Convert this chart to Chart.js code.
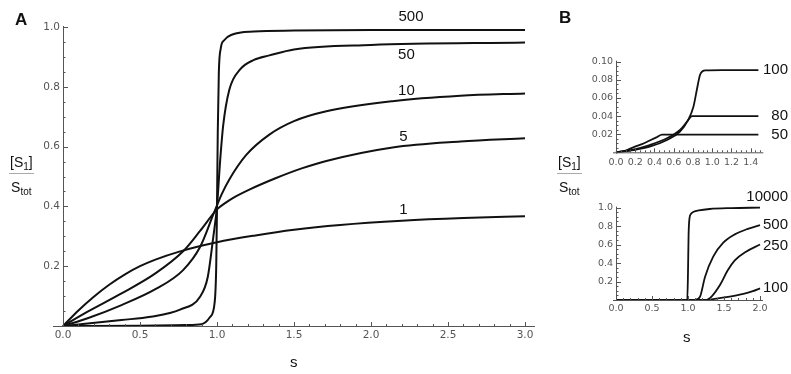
<!DOCTYPE html>
<html>
<head>
<meta charset="utf-8">
<script src="https://cdn.jsdelivr.net/npm/chart.js@4.4.1/dist/chart.umd.min.js"></script>
<style>
body { margin:0; background:#fff; width:791px; height:374px; position:relative; overflow:hidden; font-family:"Liberation Sans", Arial, sans-serif; color:#111; }
canvas { position:absolute; }
.lbl { position:absolute; line-height:1; white-space:nowrap; }
.frac { position:absolute; text-align:center; font-size:14px; line-height:1; }
.frac .num { border-bottom:1px solid #aaa; padding:0 1px 4px 1px; }
.frac .den { padding-top:6px; }
sub { font-size:10px; vertical-align:-3px; line-height:0; }
</style>
</head>
<body>
<canvas id="chartA" width="560" height="374" style="left:0;top:0"></canvas>
<canvas id="chartB1" width="231" height="145" style="left:560px;top:40px"></canvas>
<canvas id="chartB2" width="231" height="150" style="left:560px;top:185px"></canvas>

<div class="lbl" style="left:15px;top:11px;font-weight:bold;font-size:17px">A</div>
<div class="lbl" style="left:559px;top:9px;font-weight:bold;font-size:17px">B</div>
<div class="frac" style="left:9px;top:155px"><div class="num">[S<sub>1</sub>]</div><div class="den">S<sub>tot</sub></div></div>
<div class="frac" style="left:557px;top:155px"><div class="num">[S<sub>1</sub>]</div><div class="den">S<sub>tot</sub></div></div>
<div class="lbl" style="left:290px;top:354px;font-size:15px">s</div>
<div class="lbl" style="left:683px;top:329px;font-size:15px">s</div>

<script>
// ---- panel A : [S1]/Stot against s, one curve per parameter value
const sA_1 = [0, 0.1, 0.2, 0.3, 0.4, 0.5, 0.6, 0.75, 1.0, 1.25, 1.5, 1.8, 2.2, 2.6, 3.0];
const yA_1 = [0, 0.052, 0.098, 0.138, 0.172, 0.2, 0.222, 0.248, 0.28, 0.303, 0.322, 0.338, 0.352, 0.361, 0.367];
const sA_5 = [0, 0.16, 0.38, 0.6, 0.78, 0.89, 1.0, 1.05, 1.1, 1.21, 1.38, 1.55, 1.71, 2.14, 2.58, 3.0];
const yA_5 = [0, 0.048, 0.109, 0.176, 0.25, 0.318, 0.39, 0.41, 0.427, 0.456, 0.494, 0.527, 0.552, 0.597, 0.617, 0.628];
const sA_10 = [0, 0.16, 0.38, 0.6, 0.78, 0.89, 0.98, 1.03, 1.08, 1.19, 1.34, 1.5, 1.71, 2.14, 2.58, 3.0];
const yA_10 = [0, 0.026, 0.07, 0.123, 0.187, 0.264, 0.378, 0.44, 0.49, 0.572, 0.64, 0.685, 0.718, 0.752, 0.77, 0.778];
const sA_50 = [0, 0.16, 0.38, 0.57, 0.76, 0.89, 0.94, 0.976, 1.0, 1.02, 1.04, 1.08, 1.15, 1.24, 1.34, 1.5, 2.0, 3.0];
const yA_50 = [0, 0.008, 0.02, 0.031, 0.055, 0.098, 0.164, 0.298, 0.4, 0.55, 0.67, 0.79, 0.858, 0.89, 0.905, 0.925, 0.94, 0.948];
const sA_500 = [0, 0.5, 0.8, 0.9, 0.955, 0.985, 0.995, 1.0, 1.005, 1.012, 1.025, 1.045, 1.1, 1.24, 1.5, 2.0, 3.0];
const yA_500 = [0, 0.001, 0.003, 0.006, 0.03, 0.08, 0.2, 0.4, 0.65, 0.85, 0.93, 0.955, 0.975, 0.985, 0.988, 0.99, 0.99];

const curveLabelsA = ['500', '50', '10', '5', '1'];
const curveLabelSA = [2.26, 2.23, 2.23, 2.21, 2.21];
const curveLabelYA = [1.033, 0.907, 0.787, 0.633, 0.387];
const xTicksA = [0, 0.5, 1.0, 1.5, 2.0, 2.5, 3.0];
const yTicksA = [0.2, 0.4, 0.6, 0.8, 1.0];

// ---- panel B, top
const sB1_50 = [0, 0.1, 0.18, 0.27, 0.35, 0.42, 0.48, 1.48];
const yB1_50 = [0, 0.002, 0.0055, 0.009, 0.013, 0.0165, 0.0195, 0.0195];
const sB1_80 = [0, 0.18, 0.35, 0.53, 0.665, 0.74, 0.79, 1.48];
const yB1_80 = [0, 0.003, 0.008, 0.0155, 0.0246, 0.034, 0.04, 0.04];
const sB1_100 = [0, 0.18, 0.35, 0.53, 0.665, 0.75, 0.805, 0.84, 0.873, 0.9, 0.93, 1.1, 1.48];
const yB1_100 = [0, 0.0025, 0.0062, 0.0136, 0.0227, 0.0357, 0.0503, 0.0688, 0.0853, 0.0895, 0.0905, 0.0908, 0.0908];

const curveLabelsB1 = ['100', '80', '50'];
const curveLabelSB1 = [1.788, 1.788, 1.788];
const curveLabelYB1 = [0.0908, 0.040, 0.019];
const xTicksB1 = [0, 0.2, 0.4, 0.6, 0.8, 1.0, 1.2, 1.4];
const yTicksB1 = [0.02, 0.04, 0.06, 0.08, 0.10];

// ---- panel B, bottom
const sB2_100 = [0, 1.2, 1.35, 1.58, 1.77, 1.9, 2.0];
const yB2_100 = [0, 0, 0.01, 0.036, 0.065, 0.095, 0.126];
const sB2_250 = [0, 1.25, 1.33, 1.45, 1.55, 1.65, 1.8, 2.0];
const yB2_250 = [0, 0, 0.04, 0.17, 0.32, 0.43, 0.52, 0.6];
const sB2_500 = [0, 1.1, 1.167, 1.236, 1.35, 1.49, 1.65, 1.83, 2.0];
const yB2_500 = [0, 0, 0.036, 0.25, 0.47, 0.62, 0.71, 0.77, 0.81];
const sB2_10000 = [0, 0.99, 1.0, 1.008, 1.02, 1.04, 1.08, 1.15, 1.3, 1.6, 2.0];
const yB2_10000 = [0, 0, 0.3, 0.7, 0.88, 0.93, 0.955, 0.97, 0.985, 0.995, 1.0];

const curveLabelsB2 = ['10000', '500', '250', '100'];
const curveLabelSB2 = [2.389, 2.389, 2.389, 2.389];
const curveLabelYB2 = [1.118, 0.812, 0.584, 0.13];
const xTicksB2 = [0, 0.5, 1.0, 1.5, 2.0];
const yTicksB2 = [0.2, 0.4, 0.6, 0.8, 1.0];

function pts(s, y) {
    return s.map(function (x, i) { return {x: x, y: y[i]}; });
}

function curve(s, y, w) {
    return {
        data: pts(s, y),
        showLine: true,
        borderColor: '#111',
        borderWidth: w,
        pointRadius: 0,
        cubicInterpolationMode: 'monotone',
        clip: false
    };
}

// mathematica-like axes: lines through the origin, inward major + minor ticks, curve labels
const mmaAxes = {
    id: 'mmaAxes',
    afterDatasetsDraw(chart, args, o) {
        const ctx = chart.ctx;
        const x = chart.scales.x, y = chart.scales.y;
        const x0 = x.getPixelForValue(0), y0 = y.getPixelForValue(0);
        ctx.save();
        ctx.strokeStyle = '#555';
        ctx.lineWidth = 1;
        ctx.beginPath();
        ctx.moveTo(x.left - o.ext, y0 + 0.5);
        ctx.lineTo(x.right + o.ext, y0 + 0.5);
        ctx.moveTo(x0 + 0.5, y0);
        ctx.lineTo(x0 + 0.5, y.top - 1);
        // x ticks
        for (var i = 1; i * o.xMinor <= x.max + 1e-9; i++) {
            var v = i * o.xMinor;
            var major = o.xTicks.some(function (t) { return Math.abs(t - v) < 1e-6; });
            var px = Math.round(x.getPixelForValue(v)) + 0.5;
            ctx.moveTo(px, y0);
            ctx.lineTo(px, y0 - (major ? 4 : 2));
        }
        // y ticks
        for (var j = 1; j * o.yMinor <= y.max + 1e-9; j++) {
            var w = j * o.yMinor;
            var majorY = o.yTicks.some(function (t) { return Math.abs(t - w) < 1e-6; });
            var py = Math.round(y.getPixelForValue(w)) + 0.5;
            ctx.moveTo(x0, py);
            ctx.lineTo(x0 + (majorY ? 5 : 2.5), py);
        }
        ctx.stroke();

        ctx.fillStyle = '#111';
        ctx.font = o.labelFont;
        ctx.textAlign = o.labelAlign;
        ctx.textBaseline = 'middle';
        o.labels.forEach(function (t, k) {
            ctx.fillText(t, x.getPixelForValue(o.labelS[k]), y.getPixelForValue(o.labelY[k]));
        });
        ctx.restore();
    }
};

function makeChart(id, cfg) {
    return new Chart(document.getElementById(id), {
        type: 'scatter',
        data: {datasets: cfg.datasets},
        options: {
            responsive: false,
            animation: false,
            layout: {padding: cfg.padding},
            plugins: {
                legend: {display: false},
                tooltip: {enabled: false},
                mmaAxes: cfg.axes
            },
            scales: {
                x: {
                    type: 'linear', min: 0, max: cfg.xMax,
                    grid: {display: false, drawTicks: false},
                    border: {display: false},
                    afterBuildTicks: function (ax) { ax.ticks = cfg.xTicks.map(function (v) { return {value: v}; }); },
                    afterFit: function (ax) { ax.height = 28; },
                    ticks: {
                        autoSkip: false, maxRotation: 0, padding: cfg.xPad, color: '#555',
                        font: {family: 'DejaVu Sans', size: cfg.tickSize},
                        callback: function (v) { return v.toFixed(1); }
                    }
                },
                y: {
                    type: 'linear', min: 0, max: cfg.yMax,
                    grid: {display: false, drawTicks: false},
                    border: {display: false},
                    afterBuildTicks: function (ax) { ax.ticks = cfg.yTicks.map(function (v) { return {value: v}; }); },
                    afterFit: function (ax) { ax.width = 40; },
                    ticks: {
                        autoSkip: false, padding: 3, color: '#555',
                        font: {family: 'DejaVu Sans', size: cfg.tickSize},
                        callback: function (v) { return v.toFixed(cfg.yDigits); }
                    }
                }
            }
        },
        plugins: [mmaAxes]
    });
}

makeChart('chartA', {
    datasets: [
        curve(sA_1, yA_1, 2), curve(sA_5, yA_5, 2), curve(sA_10, yA_10, 2),
        curve(sA_50, yA_50, 2), curve(sA_500, yA_500, 2)
    ],
    padding: {left: 23, right: 35, top: 27, bottom: 20},
    xMax: 3, yMax: 1, xTicks: xTicksA, yTicks: yTicksA, yDigits: 1,
    tickSize: 10.5, xPad: 3,
    axes: {ext: 10, xMinor: 0.1, yMinor: 0.05, xTicks: xTicksA, yTicks: yTicksA,
        labels: curveLabelsA, labelS: curveLabelSA, labelY: curveLabelYA,
        labelFont: '15px "Liberation Sans", Arial', labelAlign: 'center'}
});

makeChart('chartB1', {
    datasets: [curve(sB1_50, yB1_50, 1.8), curve(sB1_80, yB1_80, 1.8), curve(sB1_100, yB1_100, 1.8)],
    padding: {left: 16, right: 30.7, top: 21.7, bottom: 4.7},
    xMax: 1.5, yMax: 0.1, xTicks: xTicksB1, yTicks: yTicksB1, yDigits: 2,
    tickSize: 9.5, xPad: 5,
    axes: {ext: 3, xMinor: 0.05, yMinor: 0.005, xTicks: xTicksB1, yTicks: yTicksB1,
        labels: curveLabelsB1, labelS: curveLabelSB1, labelY: curveLabelYB1,
        labelFont: '15px "Liberation Sans", Arial', labelAlign: 'right'}
});

makeChart('chartB2', {
    datasets: [curve(sB2_100, yB2_100, 1.8), curve(sB2_250, yB2_250, 1.8),
        curve(sB2_500, yB2_500, 1.8), curve(sB2_10000, yB2_10000, 1.8)],
    padding: {left: 16, right: 31, top: 22.6, bottom: 7},
    xMax: 2, yMax: 1, xTicks: xTicksB2, yTicks: yTicksB2, yDigits: 1,
    tickSize: 9.5, xPad: 3,
    axes: {ext: 3, xMinor: 0.1, yMinor: 0.05, xTicks: xTicksB2, yTicks: yTicksB2,
        labels: curveLabelsB2, labelS: curveLabelSB2, labelY: curveLabelYB2,
        labelFont: '15px "Liberation Sans", Arial', labelAlign: 'right'}
});
</script>
</body>
</html>
